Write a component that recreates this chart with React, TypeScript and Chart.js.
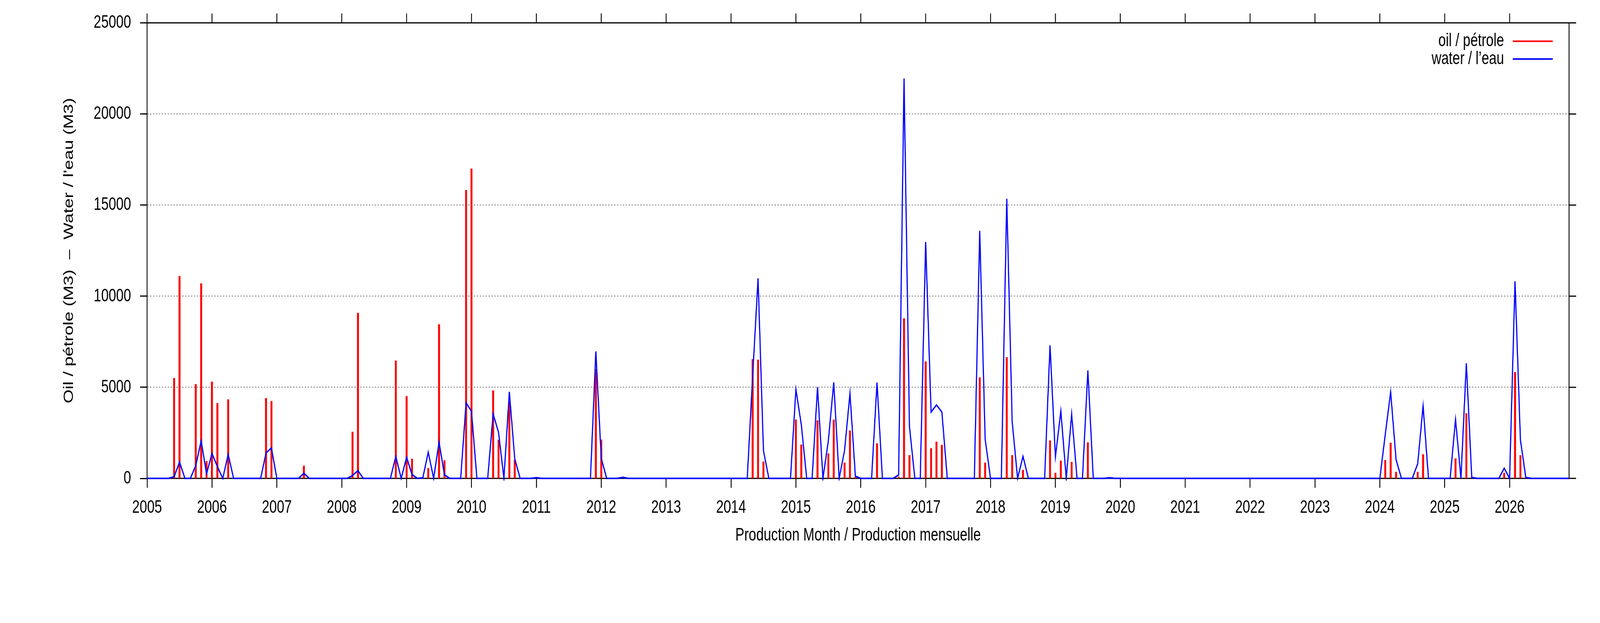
import React, { useEffect, useRef } from 'react';
import { Chart, registerables } from 'chart.js';

Chart.register(...registerables);

// ---------------- data ----------------
const START_YEAR = 2005; // first month = January 2005, one value per month

// Oil / pétrole (M3), monthly, one row per year (Jan..Dec)
const oilM3: number[] = [
  /* 2005 */ 0, 0, 0, 0, 0, 5500, 11100, 0, 0, 5170, 10700, 950,
  /* 2006 */ 5300, 4130, 0, 4330, 0, 0, 0, 0, 0, 0, 4400, 4240,
  /* 2007 */ 0, 0, 0, 0, 0, 690, 0, 0, 0, 0, 0, 0,
  /* 2008 */ 0, 0, 2550, 9080, 0, 0, 0, 0, 0, 0, 6460, 0,
  /* 2009 */ 4510, 1070, 0, 0, 560, 0, 8450, 990, 0, 0, 0, 15820,
  /* 2010 */ 17000, 0, 0, 0, 4820, 2110, 0, 4200, 1010, 0, 0, 0,
  /* 2011 */ 0, 0, 0, 0, 0, 0, 0, 0, 0, 0, 0, 6000,
  /* 2012 */ 2120, 0, 0, 0, 0, 0, 0, 0, 0, 0, 0, 0,
  /* 2013 */ 0, 0, 0, 0, 0, 0, 0, 0, 0, 0, 0, 0,
  /* 2014 */ 0, 0, 0, 0, 6540, 6510, 920, 0, 0, 0, 0, 0,
  /* 2015 */ 3220, 1850, 0, 0, 3180, 0, 1360, 3220, 0, 860, 2620, 70,
  /* 2016 */ 0, 0, 0, 1920, 0, 0, 0, 90, 8780, 1270, 0, 0,
  /* 2017 */ 6410, 1650, 2010, 1830, 0, 0, 0, 0, 0, 0, 5540, 860,
  /* 2018 */ 0, 0, 0, 6650, 1270, 0, 460, 0, 0, 0, 0, 2080,
  /* 2019 */ 300, 970, 0, 900, 0, 0, 1970, 0, 0, 0, 0, 0,
  /* 2020 */ 0, 0, 0, 0, 0, 0, 0, 0, 0, 0, 0, 0,
  /* 2021 */ 0, 0, 0, 0, 0, 0, 0, 0, 0, 0, 0, 0,
  /* 2022 */ 0, 0, 0, 0, 0, 0, 0, 0, 0, 0, 0, 0,
  /* 2023 */ 0, 0, 0, 0, 0, 0, 0, 0, 0, 0, 0, 0,
  /* 2024 */ 0, 1000, 1950, 350, 0, 0, 0, 350, 1320, 0, 0, 0,
  /* 2025 */ 0, 0, 1090, 0, 3570, 50, 0, 0, 0, 0, 0, 300,
  /* 2026 */ 0, 5830, 1270, 40, 0, 0, 0, 0, 0, 0, 0, 0,
];

// Water / l'eau (M3), monthly, one row per year (Jan..Dec)
const waterM3: number[] = [
  /* 2005 */ 0, 0, 0, 0, 0, 90, 900, 0, 0, 700, 2060, 250,
  /* 2006 */ 1370, 650, 0, 1320, 0, 0, 0, 0, 0, 0, 1390, 1670,
  /* 2007 */ 0, 0, 0, 0, 0, 280, 0, 0, 0, 0, 0, 0,
  /* 2008 */ 0, 0, 160, 420, 0, 0, 0, 0, 0, 0, 1200, 0,
  /* 2009 */ 1160, 210, 0, 30, 1440, 0, 1990, 190, 0, 0, 0, 4150,
  /* 2010 */ 3680, 0, 0, 0, 3540, 2530, 0, 4750, 1080, 0, 0, 0,
  /* 2011 */ 40, 0, 0, 0, 0, 0, 0, 0, 0, 0, 0, 6970,
  /* 2012 */ 1100, 0, 0, 0, 60, 0, 0, 0, 0, 0, 0, 0,
  /* 2013 */ 0, 0, 0, 0, 0, 0, 0, 0, 0, 0, 0, 0,
  /* 2014 */ 0, 0, 0, 0, 5600, 10980, 1520, 0, 0, 0, 0, 0,
  /* 2015 */ 4890, 2950, 0, 0, 5000, 0, 2060, 5270, 0, 1530, 4660, 120,
  /* 2016 */ 0, 0, 0, 5260, 0, 0, 0, 190, 21950, 2850, 0, 0,
  /* 2017 */ 12970, 3640, 4030, 3640, 0, 0, 0, 0, 0, 0, 13590, 2150,
  /* 2018 */ 0, 0, 0, 15350, 3120, 0, 1210, 0, 0, 0, 0, 7300,
  /* 2019 */ 1180, 3700, 0, 3520, 0, 0, 5930, 0, 0, 0, 30, 0,
  /* 2020 */ 0, 0, 0, 0, 0, 0, 0, 0, 0, 0, 0, 0,
  /* 2021 */ 0, 0, 0, 0, 0, 0, 0, 0, 0, 0, 0, 0,
  /* 2022 */ 0, 0, 0, 0, 0, 0, 0, 0, 0, 0, 0, 0,
  /* 2023 */ 0, 0, 0, 0, 0, 0, 0, 0, 0, 0, 0, 0,
  /* 2024 */ 0, 2400, 4750, 1030, 0, 0, 0, 800, 3980, 0, 0, 0,
  /* 2025 */ 0, 0, 3240, 0, 6320, 50, 0, 0, 0, 0, 0, 560,
  /* 2026 */ 0, 10820, 2110, 50, 0, 0, 0, 0, 0, 0, 0, 0,
];

const xTickYears: number[] = [
  2005, 2006, 2007, 2008, 2009, 2010, 2011, 2012, 2013, 2014, 2015,
  2016, 2017, 2018, 2019, 2020, 2021, 2022, 2023, 2024, 2025, 2026,
];
const yTickValues: number[] = [0, 5000, 10000, 15000, 20000, 25000];

const seriesLabels: string[] = ['oil / pétrole', 'water / l’eau'];
const xAxisTitle = 'Production Month / Production mensuelle';
const yAxisTitle = "Oil / pétrole (M3)  –  Water / l'eau (M3)";

// ---------------- layout / style (drawing space = 5483 x 1594) ----------------
const W = 5483;
const H = 1594;
const PLOT_LEFT = 504;
const PLOT_TOP = 47;
const PLOT_RIGHT = 5377;
const PLOT_BOTTOM = 1224;
const TICK_LEN = 24;
const X_TITLE_Y = 1370;
const Y_TITLE_X = 237;
const FONT_FAMILY = '"Liberation Sans", Arial, Helvetica, sans-serif';
const FONT_SIZE = 46;
const RED = '#ff0000';
const BLUE = '#0000ff';

const framePlugin = {
  id: 'gnuplotFrame',
  beforeDatasetsDraw(chart: any) {
    const { ctx, chartArea } = chart;
    const { left, top, right, bottom } = chartArea;
    const xs = chart.scales.x;
    const ys = chart.scales.y;
    ctx.save();
    ctx.setLineDash([]);
    ctx.strokeStyle = '#000';
    ctx.lineWidth = 3;
    ctx.beginPath();
    ctx.rect(left, top, right - left, bottom - top);
    xs.ticks.forEach((t: any) => {
      const px = xs.getPixelForValue(t.value);
      ctx.moveTo(px, top);
      ctx.lineTo(px, top - TICK_LEN);
    });
    ys.ticks.forEach((t: any) => {
      const py = ys.getPixelForValue(t.value);
      ctx.moveTo(right, py);
      ctx.lineTo(right + TICK_LEN, py);
    });
    ctx.stroke();
    ctx.restore();
  },
  afterDraw(chart: any) {
    const { ctx, chartArea } = chart;
    const { left, right, top, bottom } = chartArea;
    ctx.save();
    ctx.font = `${FONT_SIZE}px ${FONT_FAMILY}`;
    ctx.fillStyle = '#000';
    ctx.textBaseline = 'middle';

    // axis titles
    ctx.textAlign = 'center';
    ctx.fillText(xAxisTitle, (left + right) / 2, X_TITLE_Y);
    ctx.save();
    ctx.translate(Y_TITLE_X, (top + bottom) / 2);
    ctx.rotate(-Math.PI / 2);
    ctx.fillText(yAxisTitle, 0, 0);
    ctx.restore();

    // key (top right, inside the plot)
    ctx.textAlign = 'right';
    chart.data.datasets.forEach((ds: any, i: number) => {
      const yy = top + 47 + i * 45.5;
      ctx.fillStyle = '#000';
      ctx.fillText(String(ds.label), right - 223, yy);
      ctx.strokeStyle = ds.borderColor;
      ctx.lineWidth = 4;
      ctx.setLineDash([]);
      ctx.beginPath();
      ctx.moveTo(right - 193, yy);
      ctx.lineTo(right - 56, yy);
      ctx.stroke();
    });
    ctx.restore();
  },
};

export default function App() {
  const canvasRef = useRef<HTMLCanvasElement | null>(null);
  const vw = (typeof window !== 'undefined' && window.innerWidth) || W;
  const vh = (typeof window !== 'undefined' && window.innerHeight) || H;

  useEffect(() => {
    const canvas = canvasRef.current;
    if (!canvas) return;

    const oilPoints = oilM3.map((v, i) => ({ x: START_YEAR + i / 12, y: v }));
    const waterPoints = waterM3.map((v, i) => ({ x: START_YEAR + i / 12, y: v }));
    const xMax = START_YEAR + (oilM3.length - 1) / 12;
    const font = { family: FONT_FAMILY, size: FONT_SIZE };

    const chart = new Chart(canvas, {
      type: 'bar',
      data: {
        datasets: [
          {
            type: 'bar',
            label: seriesLabels[0],
            data: oilPoints,
            backgroundColor: RED,
            borderColor: RED,
            borderWidth: 0,
            barThickness: 6,
            grouped: false,
            order: 2,
          } as any,
          {
            type: 'line',
            label: seriesLabels[1],
            data: waterPoints,
            borderColor: BLUE,
            backgroundColor: BLUE,
            borderWidth: 4,
            pointRadius: 0,
            pointHoverRadius: 0,
            tension: 0,
            borderJoinStyle: 'miter',
            borderCapStyle: 'butt',
            fill: false,
            clip: 6,
            order: 1,
          } as any,
        ],
      },
      options: {
        animation: false,
        responsive: false,
        maintainAspectRatio: false,
        devicePixelRatio: 1,
        events: [],
        layout: {
          padding: { left: 0, top: PLOT_TOP, right: W - PLOT_RIGHT, bottom: 0 },
        },
        plugins: {
          legend: { display: false },
          tooltip: { enabled: false },
          title: { display: false },
        },
        scales: {
          x: {
            type: 'linear',
            min: START_YEAR,
            max: xMax,
            offset: false,
            afterFit: (s: any) => {
              s.height = H - PLOT_BOTTOM;
            },
            afterBuildTicks: (s: any) => {
              s.ticks = xTickYears.map((v) => ({ value: v }));
            },
            ticks: {
              autoSkip: false,
              maxRotation: 0,
              minRotation: 0,
              padding: 24,
              color: '#000',
              font,
              callback: (v: any) => String(v),
            },
            grid: {
              display: true,
              offset: false,
              drawOnChartArea: false,
              drawTicks: true,
              tickLength: TICK_LEN,
              tickWidth: 3,
              tickColor: '#000',
            },
            border: { display: false },
            title: { display: false },
          },
          y: {
            type: 'linear',
            min: 0,
            max: 25000,
            afterFit: (s: any) => {
              s.width = PLOT_LEFT;
            },
            afterBuildTicks: (s: any) => {
              s.ticks = yTickValues.map((v) => ({ value: v }));
            },
            ticks: {
              padding: 31,
              color: '#000',
              font,
              callback: (v: any) => String(v),
            },
            grid: {
              display: true,
              drawOnChartArea: true,
              drawTicks: true,
              color: '#000',
              lineWidth: 1,
              tickLength: TICK_LEN,
              tickWidth: 3,
              tickColor: '#000',
              tickBorderDash: [],
            },
            border: { display: false, dash: [5, 5] },
            title: { display: false },
          },
        },
      } as any,
      plugins: [framePlugin],
    });

    return () => {
      chart.destroy();
    };
  }, []);

  return (
    <div
      style={{
        position: 'fixed',
        left: 0,
        top: 0,
        width: vw,
        height: vh,
        background: '#ffffff',
        overflow: 'hidden',
      }}
    >
      <canvas
        ref={canvasRef}
        width={W}
        height={H}
        style={{ display: 'block', width: vw, height: vh }}
      />
    </div>
  );
}
